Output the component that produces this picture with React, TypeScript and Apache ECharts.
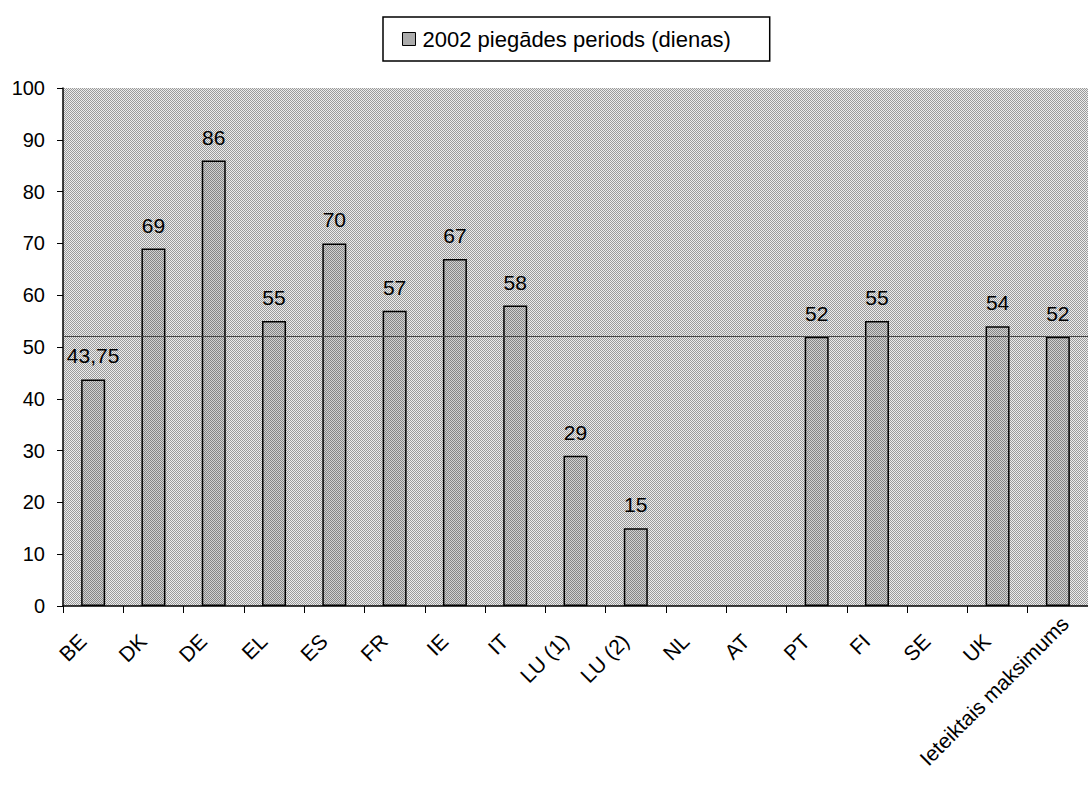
import React, { useEffect, useRef } from "react";
import * as echarts from "echarts";

const categories = ["BE", "DK", "DE", "EL", "ES", "FR", "IE", "IT", "LU (1)", "LU (2)", "NL", "AT", "PT", "FI", "SE", "UK", "Ieteiktais maksimums"];
const values: (number | null)[] = [43.75, 69, 86, 55, 70, 57, 67, 58, 29, 15, null, null, 52, 55, null, 54, 52];
const seriesName = "2002 piegādes periods (dienas)";
const referenceLine = 52;
const yTicks = { min: 0, max: 100, interval: 10 };

const FONT = "'Liberation Sans', Arial, sans-serif";

function makePattern(a: string, b: string): string {
  const c = document.createElement("canvas");
  c.width = 2;
  c.height = 2;
  const ctx = c.getContext("2d")!;
  ctx.fillStyle = b;
  ctx.fillRect(0, 0, 2, 2);
  ctx.fillStyle = a;
  ctx.fillRect(0, 0, 1, 1);
  ctx.fillRect(1, 1, 1, 1);
  return c.toDataURL();
}

export default function App() {
  const ref = useRef<HTMLDivElement>(null);
  useEffect(() => {
    if (!ref.current) return;
    const chart = echarts.init(ref.current, undefined, { renderer: "svg" });
    const bgPattern = { image: makePattern("#9a9a9a", "#ececec"), repeat: "repeat" };
    const barPattern = { image: makePattern("#858585", "#d2d2d2"), repeat: "repeat" };
    const xData = categories.map((c, i) =>
      i === categories.length - 1 ? { value: c, textStyle: { padding: [0, -10, 0, 0] } } : c
    );
    chart.setOption({
      animation: false,
      backgroundColor: "#ffffff",
      legend: {
        show: true,
        left: 383,
        top: 17,
        itemWidth: 13,
        itemHeight: 13,
        itemGap: 10,
        padding: [11, 39, 11, 19],
        borderColor: "#000",
        borderWidth: 1.5,
        backgroundColor: "#fff",
        icon: "rect",
        textStyle: { fontFamily: FONT, fontSize: 22, color: "#000", padding: [0, 0, 0, 2] },
        itemStyle: { borderColor: "#000", borderWidth: 1 },
        data: [seriesName],
      },
      grid: {
        left: 63,
        top: 88,
        width: 1033,
        bottom: 192,
        show: true,
        borderWidth: 0,
        backgroundColor: bgPattern,
        containLabel: false,
      },
      xAxis: {
        type: "category",
        data: xData,
        boundaryGap: true,
        axisLine: { show: true, lineStyle: { color: "#000", width: 1.5 } },
        axisTick: { show: true, alignWithLabel: false, length: 7, lineStyle: { color: "#000", width: 1 } },
        axisLabel: {
          interval: 0,
          rotate: 45,
          margin: 21,
          padding: [0, 15, 0, 0],
          color: "#000",
          fontFamily: FONT,
          fontSize: 21,
        },
        splitLine: { show: false },
      },
      yAxis: {
        type: "value",
        min: yTicks.min,
        max: yTicks.max,
        interval: yTicks.interval,
        axisLine: { show: true, lineStyle: { color: "#000", width: 1.5 } },
        axisTick: { show: true, length: 6, lineStyle: { color: "#000", width: 1 } },
        axisLabel: { color: "#000", fontFamily: FONT, fontSize: 20, margin: 18 },
        splitLine: { show: false },
      },
      series: [
        {
          name: seriesName,
          type: "bar",
          data: values,
          barWidth: 24,
          itemStyle: { color: barPattern, borderColor: "#000", borderWidth: 1.5 },
          label: {
            show: true,
            position: "top",
            distance: 13,
            color: "#000",
            fontFamily: FONT,
            fontSize: 21,
            formatter: (p: any) => String(p.value).replace(".", ","),
          },
          markLine: {
            silent: true,
            symbol: ["none", "none"],
            label: { show: false },
            lineStyle: { color: "#444", width: 1, type: "solid" },
            data: [{ yAxis: referenceLine }],
          },
        },
      ],
    });
    return () => chart.dispose();
  }, []);
  return <div ref={ref} style={{ position: "absolute", left: 0, top: 0, width: 1088, height: 798 }} />;
}
